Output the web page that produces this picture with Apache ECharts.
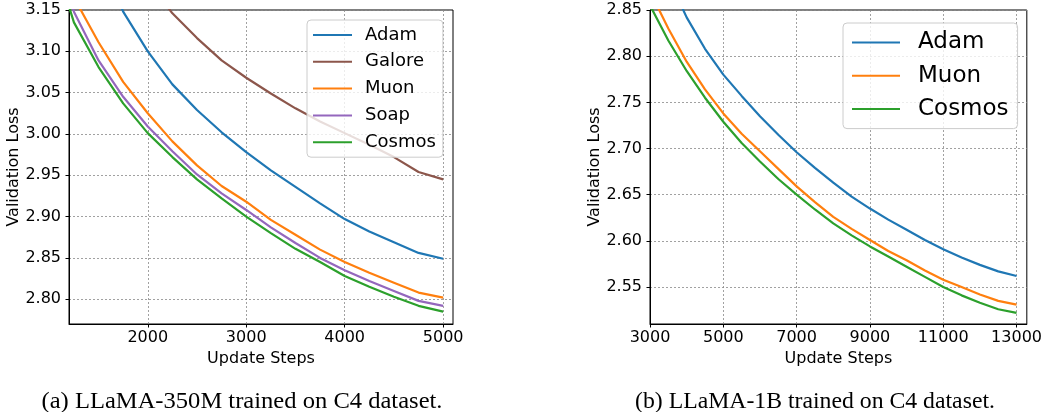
<!DOCTYPE html>
<html>
<head>
<meta charset="utf-8">
<title>Validation loss</title>
<script src="https://cdn.jsdelivr.net/npm/echarts@6/dist/echarts.min.js"></script>
<style>
  html, body { margin: 0; padding: 0; background: #fff; }
  #main { width: 1045px; height: 412px; }
</style>
</head>
<body>
<div id="main"></div>
<script>
// (a) LLaMA-350M
var steps350 = [1000, 1250, 1500, 1750, 2000, 2250, 2500, 2750, 3000, 3250, 3500, 3750, 4000, 4250, 4500, 4750, 5000];
var adam350 = [3.40, 3.31, 3.22, 3.148, 3.100, 3.060, 3.029, 3.002, 2.978, 2.956, 2.936, 2.916, 2.897, 2.882, 2.869, 2.856, 2.849];
var galore350 = [3.45, 3.36, 3.29, 3.23, 3.185, 3.146, 3.116, 3.089, 3.068, 3.049, 3.031, 3.015, 3.001, 2.987, 2.972, 2.954, 2.945];
var muon350 = [3.26, 3.165, 3.111, 3.063, 3.025, 2.991, 2.962, 2.937, 2.918, 2.896, 2.878, 2.860, 2.845, 2.832, 2.820, 2.808, 2.802];
var soap350 = [3.24, 3.148, 3.089, 3.045, 3.009, 2.979, 2.951, 2.928, 2.908, 2.887, 2.868, 2.850, 2.835, 2.822, 2.810, 2.798, 2.792];
var cosmos350 = [3.23, 3.135, 3.081, 3.037, 3.001, 2.972, 2.945, 2.922, 2.900, 2.880, 2.861, 2.845, 2.828, 2.815, 2.803, 2.792, 2.785];
var xTicks350 = [2000, 3000, 4000, 5000];
var yTicks350 = [2.80, 2.85, 2.90, 2.95, 3.00, 3.05, 3.10, 3.15];

// (b) LLaMA-1B
var steps1b = [3000, 3500, 4000, 4500, 5000, 5500, 6000, 6500, 7000, 7500, 8000, 8500, 9000, 9500, 10000, 10500, 11000, 11500, 12000, 12500, 13000];
var adam1b = [2.935, 2.885, 2.842, 2.808, 2.780, 2.757, 2.735, 2.715, 2.696, 2.679, 2.663, 2.648, 2.635, 2.623, 2.612, 2.601, 2.591, 2.582, 2.574, 2.567, 2.562];
var muon1b = [2.870, 2.830, 2.794, 2.764, 2.738, 2.716, 2.697, 2.678, 2.659, 2.642, 2.626, 2.613, 2.601, 2.589, 2.579, 2.568, 2.558, 2.550, 2.542, 2.535, 2.531];
var cosmos1b = [2.855, 2.817, 2.784, 2.755, 2.729, 2.706, 2.686, 2.667, 2.650, 2.634, 2.619, 2.606, 2.594, 2.583, 2.572, 2.561, 2.550, 2.541, 2.533, 2.526, 2.522];
var xTicks1b = [3000, 5000, 7000, 9000, 11000, 13000];
var yTicks1b = [2.55, 2.60, 2.65, 2.70, 2.75, 2.80, 2.85];

var captionA = '(a) LLaMA-350M trained on C4 dataset.';
var captionB = '(b) LLaMA-1B trained on C4 dataset.';

var colors = {
    Adam: '#1f77b4',
    Galore: '#8c564b',
    Muon: '#ff7f0e',
    Soap: '#9467bd',
    Cosmos: '#2ca02c'
};

function pairs(xs, ys) {
    var out = [];
    for (var i = 0; i < xs.length; i++) {
        out.push([xs[i], ys[i]]);
    }
    return out;
}

function line(name, idx, xs, ys) {
    return {
        name: name,
        type: 'line',
        xAxisIndex: idx,
        yAxisIndex: idx,
        data: pairs(xs, ys),
        symbol: 'none',
        clip: true,
        color: colors[name],
        lineStyle: { width: 2.2, color: colors[name] }
    };
}

var font = 'DejaVu Sans';
var gridLine = { show: true, lineStyle: { color: '#8a8a8a', width: 0.8, type: [2, 2] } };

function xAxis(idx, min, max, ticks) {
    return {
        type: 'value',
        gridIndex: idx,
        min: min,
        max: max,
        name: 'Update Steps',
        nameLocation: 'middle',
        nameGap: 25,
        nameTextStyle: { fontFamily: font, fontSize: 16, color: '#000' },
        axisLine: { show: true, lineStyle: { color: '#000', width: 1 } },
        axisTick: { show: true, length: 3.5, customValues: ticks, lineStyle: { color: '#000' } },
        axisLabel: {
            customValues: ticks, margin: 6,
            fontFamily: font, fontSize: 16, color: '#000',
            formatter: function (v) { return String(v); }
        },
        splitLine: gridLine
    };
}

function yAxis(idx, min, max, ticks) {
    return {
        type: 'value',
        gridIndex: idx,
        min: min,
        max: max,
        name: 'Validation Loss',
        nameLocation: 'middle',
        nameGap: 47,
        nameTextStyle: { fontFamily: font, fontSize: 16, color: '#000' },
        axisLine: { show: true, lineStyle: { color: '#000', width: 1 } },
        axisTick: { show: true, length: 3.5, customValues: ticks, lineStyle: { color: '#000' } },
        axisLabel: {
            customValues: ticks, margin: 8,
            fontFamily: font, fontSize: 16, color: '#000',
            formatter: function (v) { return v.toFixed(2); }
        },
        splitLine: gridLine
    };
}

var myChart = echarts.init(document.getElementById('main'));
var option = {
    animation: false,
    backgroundColor: '#fff',
    grid: [
        { left: 69, top: 10, width: 384, height: 314, show: true, borderColor: '#000', borderWidth: 1, backgroundColor: 'transparent' },
        { left: 650, top: 10, width: 379, height: 314, show: true, borderColor: '#000', borderWidth: 1, backgroundColor: 'transparent' }
    ],
    xAxis: [xAxis(0, 1200, 5100, xTicks350), xAxis(1, 3000, 13280, xTicks1b)],
    yAxis: [yAxis(0, 2.77, 3.15, yTicks350), yAxis(1, 2.51, 2.85, yTicks1b)],
    legend: [
        {
            data: ['Adam', 'Galore', 'Muon', 'Soap', 'Cosmos'],
            orient: 'vertical',
            left: 307, top: 20,
            icon: 'rect',
            itemWidth: 39, itemHeight: 2,
            itemGap: 8.8,
            padding: [6, 7, 6, 6],
            backgroundColor: 'rgba(255,255,255,0.8)',
            borderColor: '#cccccc', borderWidth: 1, borderRadius: 4,
            textStyle: { fontFamily: font, fontSize: 18, lineHeight: 18, color: '#000', padding: [0, 0, 0, 8] }
        },
        {
            data: ['Adam', 'Muon', 'Cosmos'],
            orient: 'vertical',
            left: 843, top: 23,
            icon: 'rect',
            itemWidth: 48, itemHeight: 2,
            itemGap: 10.3,
            padding: [8, 9, 8, 9],
            backgroundColor: 'rgba(255,255,255,0.8)',
            borderColor: '#cccccc', borderWidth: 1, borderRadius: 4,
            textStyle: { fontFamily: font, fontSize: 23, lineHeight: 23, color: '#000', padding: [0, 0, 0, 13] }
        }
    ],
    series: [
        line('Adam', 0, steps350, adam350),
        line('Galore', 0, steps350, galore350),
        line('Muon', 0, steps350, muon350),
        line('Soap', 0, steps350, soap350),
        line('Cosmos', 0, steps350, cosmos350),
        line('Adam', 1, steps1b, adam1b),
        line('Muon', 1, steps1b, muon1b),
        line('Cosmos', 1, steps1b, cosmos1b)
    ],
    graphic: [
        {
            type: 'text', x: 242, y: 402, scaleX: 1.045,
            style: { text: captionA, fontFamily: 'Liberation Serif', fontSize: 23.5, fill: '#000', align: 'center', verticalAlign: 'middle' }
        },
        {
            type: 'text', x: 815, y: 402, scaleX: 1.01,
            style: { text: captionB, fontFamily: 'Liberation Serif', fontSize: 23.5, fill: '#000', align: 'center', verticalAlign: 'middle' }
        }
    ]
};
myChart.setOption(option);
</script>
</body>
</html>
